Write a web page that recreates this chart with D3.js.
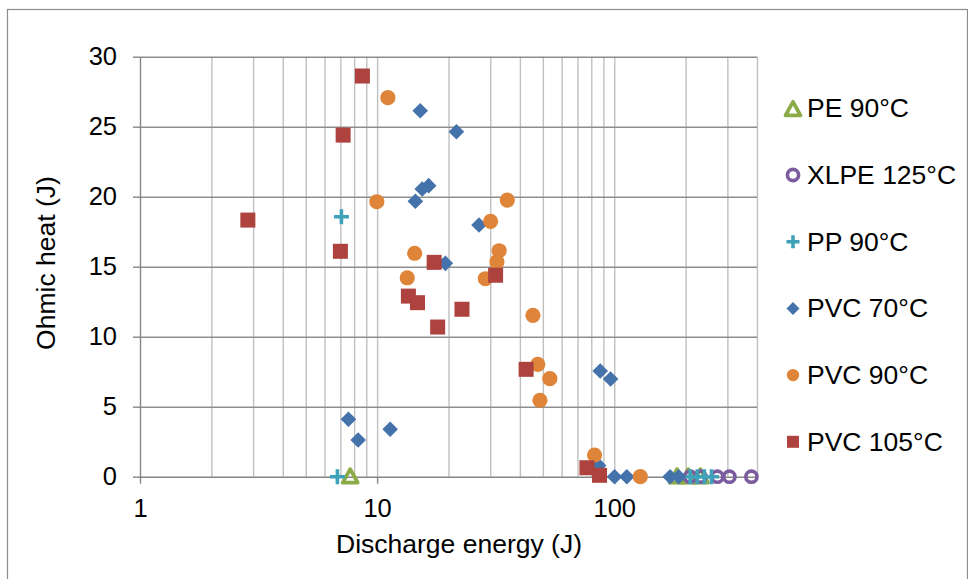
<!DOCTYPE html>
<html>
<head>
<meta charset="utf-8">
<script src="https://cdn.jsdelivr.net/npm/d3@7"></script>
<style>
  html, body { margin: 0; padding: 0; background: #fff; }
  svg { display: block; font-family: "Liberation Sans", Arial, sans-serif; }
</style>
</head>
<body>
<svg id="chart" width="968" height="579"></svg>
<script>
// Series: discharge energy (J) vs ohmic heat (J)
const seriesNames = ["PE 90°C", "XLPE 125°C", "PP 90°C", "PVC 70°C", "PVC 90°C", "PVC 105°C"];

const pe90X = [7.7, 184, 205, 231];
const pe90Y = [0, 0, 0, 0];

const xlpe125X = [209, 231, 272, 306, 379];
const xlpe125Y = [0, 0, 0, 0, 0];

const pp90X = [7.07, 6.8, 209, 224, 240, 257];
const pp90Y = [18.57, 0, 0, 0, 0, 0];

const pvc70X = [15.2, 21.6, 16.5, 15.5, 14.5, 26.9, 19.4, 7.57, 8.32, 11.35, 87.3, 96.5, 85.9, 100.3, 113, 172, 187];
const pvc70Y = [26.14, 24.64, 20.79, 20.55, 19.67, 17.98, 15.24, 4.1, 2.62, 3.39, 7.55, 6.98, 0.8, 0, 0, 0, 0];

const pvc90X = [11.1, 9.97, 35.4, 30.1, 14.4, 32.7, 32.0, 13.4, 28.6, 45.4, 47.6, 53.5, 48.6, 82.6, 128.8];
const pvc90Y = [27.07, 19.64, 19.76, 18.24, 15.96, 16.14, 15.34, 14.21, 14.14, 11.53, 8.03, 7.0, 5.46, 1.55, 0];

const pvc105X = [2.85, 7.19, 8.67, 7.0, 17.4, 31.6, 13.55, 14.8, 22.8, 18.0, 42.5, 76.7, 86.7];
const pvc105Y = [18.33, 24.4, 28.62, 16.1, 15.31, 14.39, 12.9, 12.43, 11.96, 10.69, 7.67, 0.64, 0.1];

// Axis ticks
const xTickValues = [1, 10, 100];
const xGridValues = [2, 3, 4, 5, 6, 7, 8, 9, 10, 20, 30, 40, 50, 60, 70, 80, 90, 100, 200, 300, 400];
const yTickValues = [0, 5, 10, 15, 20, 25, 30];

const seriesX = [pe90X, xlpe125X, pp90X, pvc70X, pvc90X, pvc105X];
const seriesY = [pe90Y, xlpe125Y, pp90Y, pvc70Y, pvc90Y, pvc105Y];
const series = seriesNames.map((name, i) => ({
  name,
  points: seriesX[i].map((x, j) => ({ x, y: seriesY[i][j] }))
}));

// Marker styles per series
const markerStyle = {
  "PE 90°C":    { kind: "triangle", color: "#8aab48" },
  "XLPE 125°C": { kind: "ring",     color: "#7a5c9f" },
  "PP 90°C":    { kind: "plus",     color: "#3fa2ba" },
  "PVC 70°C":   { kind: "diamond",  color: "#4472ab" },
  "PVC 90°C":   { kind: "circle",   color: "#df853a" },
  "PVC 105°C":  { kind: "square",   color: "#ad423f" }
};

const svg = d3.select("#chart");

const plot = { left: 140, right: 757, top: 56.7, bottom: 476.7 };

const x = d3.scaleLog().domain([1, 400]).range([plot.left, plot.right]);
const y = d3.scaleLinear().domain([0, 30]).range([plot.bottom, plot.top]);

const tickFont = 25.5;
const titleFont = 26.5;

// Outer chart frame
svg.append("rect")
  .attr("x", 7.5).attr("y", 9.5)
  .attr("width", 960).attr("height", 600)
  .attr("fill", "none").attr("stroke", "#8c8c8c").attr("stroke-width", 1.2);

// Vertical gridlines (log spaced)
svg.append("g")
  .attr("transform", `translate(0,${plot.bottom})`)
  .call(d3.axisBottom(x).tickValues(xGridValues).tickSize(-(plot.bottom - plot.top)).tickFormat(""))
  .call(g => g.select(".domain").remove())
  .call(g => g.selectAll("line").attr("stroke", "#c0c0c0").attr("stroke-width", 1.4));

// Horizontal gridlines
svg.append("g")
  .attr("transform", `translate(${plot.left},0)`)
  .call(d3.axisLeft(y).tickValues(yTickValues.filter(v => v > 0)).tickSize(-(plot.right - plot.left)).tickFormat(""))
  .call(g => g.select(".domain").remove())
  .call(g => g.selectAll("line").attr("stroke", "#8e8e8e").attr("stroke-width", 1.4));

// Y axis
svg.append("g")
  .attr("transform", `translate(${plot.left},0)`)
  .call(d3.axisLeft(y).tickValues(yTickValues).tickSize(7).tickSizeOuter(0).tickPadding(16))
  .call(g => g.select(".domain").attr("stroke", "#868686").attr("stroke-width", 1.4))
  .call(g => g.selectAll(".tick line").attr("stroke", "#868686").attr("stroke-width", 1.4))
  .call(g => g.selectAll("text").attr("font-size", tickFont).attr("fill", "#000")
    .attr("font-family", "Liberation Sans, Arial, sans-serif"));

// X axis
svg.append("g")
  .attr("transform", `translate(0,${plot.bottom})`)
  .call(d3.axisBottom(x).tickValues(xTickValues).tickFormat(d3.format("d")).tickSize(7).tickSizeOuter(0).tickPadding(15))
  .call(g => g.select(".domain").attr("stroke", "#868686").attr("stroke-width", 1.4))
  .call(g => g.selectAll(".tick line").attr("stroke", "#868686").attr("stroke-width", 1.4))
  .call(g => g.selectAll("text").attr("font-size", tickFont).attr("fill", "#000")
    .attr("font-family", "Liberation Sans, Arial, sans-serif"));

// Axis titles
svg.append("text")
  .attr("x", 459).attr("y", 553)
  .attr("text-anchor", "middle")
  .attr("font-size", titleFont)
  .text("Discharge energy (J)");

svg.append("text")
  .attr("transform", "translate(55,263) rotate(-90)")
  .attr("text-anchor", "middle")
  .attr("font-size", titleFont)
  .text("Ohmic heat (J)");

// Marker drawing
function drawMarker(sel, kind, color) {
  if (kind === "square") {
    sel.append("rect").attr("x", -7.5).attr("y", -7.5).attr("width", 15).attr("height", 15)
      .attr("fill", color);
  } else if (kind === "circle") {
    sel.append("circle").attr("r", 7.6).attr("fill", color);
  } else if (kind === "diamond") {
    sel.append("path").attr("d", "M0,-7.8L7.8,0L0,7.8L-7.8,0Z").attr("fill", color);
  } else if (kind === "ring") {
    sel.append("circle").attr("r", 5.6).attr("fill", "none").attr("stroke", color).attr("stroke-width", 3.6);
  } else if (kind === "plus") {
    sel.append("path").attr("d", "M-7.5,0H7.5M0,-7.5V7.5").attr("stroke", color).attr("stroke-width", 3.6)
      .attr("fill", "none");
  } else if (kind === "triangle") {
    sel.append("path").attr("d", "M0,-7.5L7.5,6L-7.5,6Z").attr("fill", "none")
      .attr("stroke", color).attr("stroke-width", 3.8).attr("stroke-linejoin", "round");
  }
}

const markers = svg.append("g");
series.forEach(s => {
  const st = markerStyle[s.name];
  markers.append("g")
    .selectAll("g")
    .data(s.points)
    .join("g")
    .attr("transform", d => `translate(${x(d.x)},${y(d.y)})`)
    .each(function () { drawMarker(d3.select(this), st.kind, st.color); });
});

// Legend
const legendTop = 108.3, legendStep = 66.7;
const legend = svg.append("g");
series.forEach((s, i) => {
  const st = markerStyle[s.name];
  const row = legend.append("g").attr("transform", `translate(793,${legendTop + i * legendStep})`);
  const m = row.append("g");
  if (st.kind === "triangle") m.attr("transform", "translate(0,1)");
  drawMarker(m, st.kind, st.color);
  if (st.kind === "square") m.select("rect").attr("x", -6).attr("y", -6).attr("width", 12).attr("height", 12);
  if (st.kind === "circle") m.select("circle").attr("r", 6.2);
  if (st.kind === "diamond") m.select("path").attr("d", "M0,-6.5L6.5,0L0,6.5L-6.5,0Z");
  if (st.kind === "plus") m.select("path").attr("d", "M-6.5,0H6.5M0,-6.5V6.5");
  row.append("text")
    .attr("x", 14).attr("y", 9)
    .attr("font-size", titleFont)
    .text(s.name);
});
</script>
</body>
</html>
